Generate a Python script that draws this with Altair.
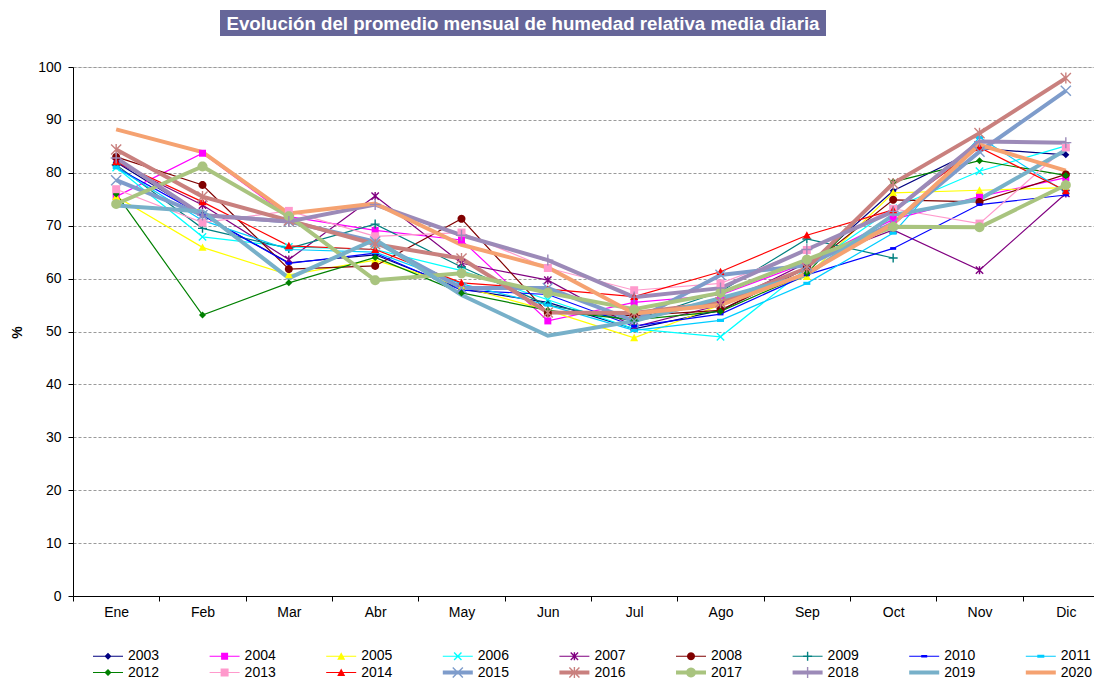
import math
import altair as alt
import pandas as pd

months = ["Ene", "Feb", "Mar", "Abr", "May", "Jun", "Jul", "Ago", "Sep", "Oct", "Nov", "Dic"]
years = [str(y) for y in range(2003, 2021)]

v2003 = [82.0, 72.0, 63.0, 64.5, 58.0, 55.5, 50.5, 54.0, 62.0, 76.6, 84.6, 83.4]
v2004 = [75.5, 83.7, 71.7, 69.1, 67.3, 52.0, 55.5, 56.9, 63.0, 71.2, 75.5, 79.1]
v2005 = [75.5, 65.9, 60.7, 63.5, 58.5, 54.0, 48.8, 55.0, 60.4, 76.2, 76.7, 77.2]
v2006 = [81.0, 67.9, 66.0, 65.5, 61.5, 56.0, 50.5, 49.0, 62.0, 73.3, 80.3, 85.1]
v2007 = [82.0, 73.9, 63.6, 75.6, 62.9, 59.7, 50.9, 55.0, 63.0, 69.2, 61.6, 76.1]
v2008 = [83.0, 77.7, 61.8, 62.4, 71.3, 53.5, 53.0, 54.0, 62.0, 74.9, 74.5, 79.7]
v2009 = [81.5, 69.5, 65.7, 70.3, 62.2, 55.0, 52.0, 57.5, 67.5, 63.9, None, None]
v2010 = [81.0, 72.0, 62.9, 64.8, 57.8, 57.0, 51.0, 53.3, 60.7, 65.7, 74.0, 75.8]
v2011 = [81.0, 71.0, 65.5, 65.0, 59.0, 55.0, 50.2, 52.1, 59.1, 68.6, 86.7, 76.3]
v2012 = [76.0, 53.1, 59.2, 64.0, 57.3, 54.0, 52.2, 53.8, 61.0, 78.3, 82.3, 79.5]
v2013 = [76.9, 70.6, 72.8, 68.0, 68.7, 62.0, 57.8, 59.1, 65.4, 73.2, 70.4, 84.8]
v2014 = [82.1, 74.5, 66.2, 65.5, 59.2, 58.0, 56.6, 61.3, 68.2, 73.0, 84.8, 76.6]
v2015 = [78.6, 72.0, 70.8, 67.0, 58.2, 58.2, 52.0, 60.7, 62.5, 70.5, 84.0, 95.5]
v2016 = [84.4, 75.5, 71.0, 66.5, 63.8, 53.6, 53.5, 55.5, 62.0, 78.0, 87.5, 97.9]
v2017 = [74.1, 81.2, 71.8, 59.7, 61.0, 57.3, 54.2, 57.3, 63.6, 69.8, 69.7, 77.7]
v2018 = [82.8, 72.0, 70.8, 74.0, 68.2, 63.5, 56.5, 58.2, 65.5, 72.7, 85.9, 85.7]
v2019 = [73.8, 72.7, 60.1, 67.4, 56.9, 49.2, 52.0, 56.3, 60.7, 72.0, 75.0, 84.3]
v2020 = [88.2, 83.9, 72.3, 74.2, 66.4, 62.1, 53.4, 55.0, 61.0, 70.4, 85.3, 80.4]

series = [v2003, v2004, v2005, v2006, v2007, v2008, v2009, v2010, v2011,
          v2012, v2013, v2014, v2015, v2016, v2017, v2018, v2019, v2020]

colors = ["#000080", "#FF00FF", "#FFFF00", "#00FFFF", "#800080", "#800000", "#008080",
          "#0000FF", "#00CCFF", "#008000", "#FF99CC", "#FF0000", "#7E9CCB", "#C9807E",
          "#A9C47F", "#9C8AB8", "#77B0C9", "#F5A271"]
line_widths = [1.2] * 12 + [4.0] * 6
marker_kinds = ["diamond", "square", "triangle", "x", "star", "circle", "plus", "dash", "dash",
                "diamond", "square", "triangle", "x", "star", "circle", "plus", "none", "none"]
marker_px = [7, 7, 8, 8, 8, 8, 9, 6, 7, 7, 8, 8, 11, 11, 10, 11, 0, 0]

title_text = "Evolución del promedio mensual de humedad relativa media diaria"

FONT = "Liberation Sans, Arial, sans-serif"

# ---------- symbol path helpers ----------
def _area(p):
    return sum(p[i][0] * p[(i + 1) % len(p)][1] - p[(i + 1) % len(p)][0] * p[i][1] for i in range(len(p)))

def _poly(p):
    if _area(p) < 0:
        p = p[::-1]
    return "M" + "L".join(f"{x:.3f},{y:.3f}" for x, y in p) + "Z"

def _rect(x0, y0, x1, y1):
    return [(x0, y0), (x1, y0), (x1, y1), (x0, y1)]

def _bar(deg, hl, hw):
    a = math.radians(deg)
    c, s = math.cos(a), math.sin(a)
    pts = [(-hl, -hw), (hl, -hw), (hl, hw), (-hl, hw)]
    return [(x * c - y * s, x * s + y * c) for x, y in pts]

def marker_polys(kind, r, t):
    if kind == "diamond":
        return [[(0, -r), (r, 0), (0, r), (-r, 0)]]
    if kind == "square":
        return [_rect(-r, -r, r, r)]
    if kind == "triangle":
        return [[(0, -r), (r, 0.85 * r), (-r, 0.85 * r)]]
    if kind == "circle":
        return [[(r * math.cos(2 * math.pi * k / 24), r * math.sin(2 * math.pi * k / 24)) for k in range(24)]]
    if kind == "x":
        return [_bar(45, r * 1.3, t), _bar(-45, r * 1.3, t)]
    if kind == "star":
        return [_bar(45, r * 1.3, t), _bar(-45, r * 1.3, t), _bar(90, r, t)]
    if kind == "plus":
        return [_bar(0, r, t), _bar(90, r, t)]
    if kind == "dash":
        return [_rect(-r, -0.45 * r, r, 0.45 * r)]
    return []

def to_path(polys):
    if not polys:
        return "M0,0Z"
    return "".join(_poly(p) for p in polys)

# markers for the data points (unit box [-1, 1])
point_shapes = []
point_sizes = []
for k, px in zip(marker_kinds, marker_px):
    t = 0.7 / (px / 2) if px else 0.1
    point_shapes.append(to_path(marker_polys(k, 1.0, t)))
    point_sizes.append(px * px)

# legend symbols: line + marker (unit = 7.5 px, symbol size 225)
U = 7.5
legend_shapes = []
for k, px, lw in zip(marker_kinds, marker_px, line_widths):
    h = (lw / 2) / U
    polys = [_rect(-2.0, -h, 2.0, h)]
    if px:
        polys += marker_polys(k, (px / 2) / U, 0.7 / U)
    legend_shapes.append(to_path(polys))

rows = []
for yr, vals in zip(years, series):
    for m, v in zip(months, vals):
        rows.append({"year": yr, "month": m, "value": v})
df = pd.DataFrame(rows)

x_enc = alt.X(
    "month:N", sort=months, bandPosition=0.5,
    scale=alt.Scale(type="band", domain=months, range=[0, 1036], paddingInner=0, paddingOuter=0),
    axis=alt.Axis(title=None, tickBand="extent", labelAngle=0, labelFont=FONT, labelFontSize=14,
                  labelColor="black", domainColor="black", tickColor="black", tickSize=5,
                  labelPadding=4, grid=False),
)
y_enc = alt.Y(
    "value:Q",
    scale=alt.Scale(domain=[0, 100], nice=False, zero=True),
    axis=alt.Axis(values=list(range(0, 101, 10)), title="%", titleFont=FONT, titleFontSize=14,
                  titleFontWeight="bold", titleColor="black", titleAngle=-90, titleX=-56, titleY=265,
                  titleAlign="center", titleBaseline="middle",
                  labelFont=FONT, labelFontSize=14, labelColor="black", labelPadding=7,
                  tickSize=5, tickColor="black", domainColor="black",
                  grid=True, gridColor="#9A9A9A", gridDash=[3, 2], gridWidth=1),
)
color_scale = alt.Scale(domain=years, range=colors)

base = alt.Chart(df)

lines = base.mark_line().encode(
    x=x_enc, y=y_enc,
    color=alt.Color("year:N", scale=color_scale, legend=None),
    strokeWidth=alt.StrokeWidth("year:N", scale=alt.Scale(type="ordinal", domain=years, range=line_widths), legend=None),
)

points = base.mark_point(filled=True, opacity=1, strokeWidth=0).encode(
    x=x_enc, y=y_enc,
    color=alt.Color("year:N", scale=color_scale, legend=None),
    shape=alt.Shape("year:N", scale=alt.Scale(domain=years, range=point_shapes), legend=None),
    size=alt.Size("year:N", scale=alt.Scale(type="ordinal", domain=years, range=point_sizes), legend=None),
)

leg = alt.Legend(title=None, orient="none", direction="horizontal", legendX=27.5, legendY=581.5,
                 columns=9, symbolSize=225, symbolStrokeWidth=0, labelOffset=12.5, columnPadding=49.6,
                 rowPadding=1.5, labelFont=FONT, labelFontSize=14, labelColor="black",
                 padding=0, gridAlign="all", symbolOpacity=1)

legend_layer = base.transform_filter("false").mark_point(filled=True, opacity=1, strokeWidth=0).encode(
    x=x_enc, y=y_enc,
    color=alt.Color("year:N", scale=color_scale, legend=leg),
    shape=alt.Shape("year:N", scale=alt.Scale(domain=years, range=legend_shapes), legend=leg),
)

tdf = pd.DataFrame({"t": [title_text]})
title_box = alt.Chart(tdf).mark_rect(color="#666699").encode(
    x=alt.value(147), x2=alt.value(753), y=alt.value(-57), y2=alt.value(-31)
)
title_label = alt.Chart(tdf).mark_text(
    font=FONT, fontSize=18.7, fontWeight="bold", color="white", align="center", baseline="middle"
).encode(text="t:N", x=alt.value(450), y=alt.value(-43.5))

chart = alt.layer(title_box, title_label, lines, points, legend_layer).resolve_scale(
    color="independent", shape="independent", size="independent"
).properties(
    width=1021, height=529,
    autosize=alt.AutoSizeParams(type="none"),
    padding={"left": 65, "top": 59, "right": 0, "bottom": 82},
).configure_view(stroke=None).configure(background="white")

chart.save("out.html", embed_options={"renderer": "svg", "actions": False})
